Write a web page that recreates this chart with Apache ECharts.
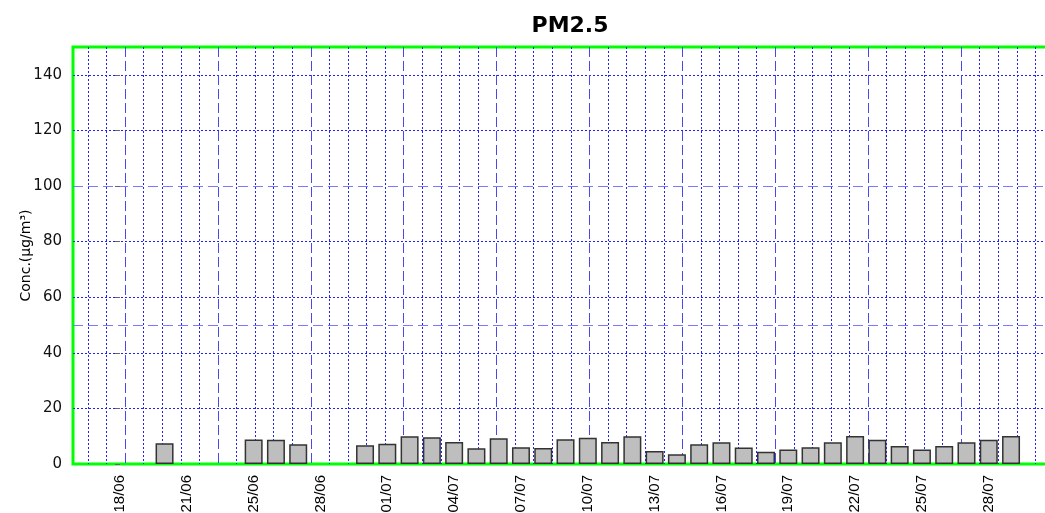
<!DOCTYPE html>
<html>
  <head>
    <meta charset="utf-8" />
    <script src="https://cdn.jsdelivr.net/npm/echarts@6.0.0/dist/echarts.min.js"></script>
  </head>
  <body style="margin:0">
    <div id="main" style="width: 1045px;height:513px;"></div>
    <script type="text/javascript">
      // days counted from 18/06
      var tickDays = [0, 3, 6, 9, 12, 15, 18, 21, 24, 27, 30, 33, 36, 39];
      var tickLabels = ['18/06', '21/06', '25/06', '28/06', '01/07', '04/07', '07/07',
        '10/07', '13/07', '16/07', '19/07', '22/07', '25/07', '28/07'];
      var barDays = [2, 6, 7, 8,
        11, 12, 13, 14, 15, 16, 17, 18, 19, 20, 21, 22, 23, 24, 25,
        26, 27, 28, 29, 30, 31, 32, 33, 34, 35, 36, 37, 38, 39, 40];
      var pm25 = [7.5, 8.8, 8.7, 7.1,
        6.7, 7.3, 10.0, 9.6, 7.9, 5.7, 9.3, 6.0, 5.8, 8.9, 9.4, 7.9, 10.0, 4.7, 3.5,
        7.1, 7.8, 5.9, 4.4, 5.2, 6.0, 7.8, 10.1, 8.7, 6.5, 5.2, 6.5, 7.8, 8.7, 10.1];
      var yTicks = [0, 20, 40, 60, 80, 100, 120, 140];
      var yDotted = [20, 40, 60, 80, 120, 140];
      var yDashed = [50, 100];
      // vertical grid lines (own units, one step per minor line)
      var vMinor = [];
      var vMajor = [];
      for (var g = -2; g <= 50; g++) {
        if (g % 5 === 0) vMajor.push(g); else vMinor.push(g);
      }

      var barData = barDays.map(function (d, i) { return [d, pm25[i]]; });

      var hiddenX = function (vals, type, color) {
        return {
          type: 'value', min: -2.8, max: 50.22, gridIndex: 0,
          axisLine: { show: false },
          axisLabel: { show: false, customValues: vals },
          axisTick: { show: false, customValues: vals },
          splitLine: { show: true, lineStyle: { color: color, width: 1, type: type } }
        };
      };
      var hiddenY = function (vals, type, color) {
        return {
          type: 'value', min: 0, max: 150,
          axisLine: { show: false },
          axisLabel: { show: false, customValues: vals },
          axisTick: { show: false, customValues: vals },
          splitLine: { show: true, lineStyle: { color: color, width: 1, type: type } }
        };
      };

      var myChart = echarts.init(document.getElementById('main'));
      var option = {
        animation: false,
        backgroundColor: '#fff',
        title: {
          text: 'PM2.5',
          left: 565,
          top: 10,
          textAlign: 'center',
          textStyle: { fontFamily: 'DejaVu Sans', fontWeight: 'bold', fontSize: 22, color: '#000' }
        },
        grid: {
          left: 73, top: 47, width: 985, height: 417,
          outerBoundsMode: 'none',
          containLabel: false,
          show: true, borderColor: '#00ff00', borderWidth: 3
        },
        xAxis: [
          {
            type: 'value', min: -2.11, max: 42.108,
            axisLine: { show: false },
            axisTick: { show: false, customValues: tickDays },
            splitLine: { show: false },
            axisLabel: {
              customValues: tickDays,
              rotate: 90,
              margin: 11,
              fontFamily: 'Liberation Sans',
              fontSize: 15,
              color: '#000',
              formatter: function (v) { return tickLabels[tickDays.indexOf(v)]; }
            }
          },
          hiddenX(vMinor, [2, 2], '#2020ff'),
          hiddenX(vMajor, [10, 4], '#4848f0')
        ],
        yAxis: [
          {
            type: 'value', min: 0, max: 150,
            name: 'Conc.(μg/m³)',
            nameLocation: 'middle',
            nameGap: 40,
            nameMoveOverlap: false,
            nameTextStyle: { fontFamily: 'DejaVu Sans', fontSize: 14, color: '#000' },
            axisLine: { show: false },
            axisTick: { show: true, length: 5, customValues: yTicks, lineStyle: { color: '#666' } },
            axisLabel: { customValues: yTicks, margin: 11, fontFamily: 'DejaVu Sans', fontSize: 15, color: '#111' },
            splitLine: { show: false }
          },
          hiddenY(yDotted, [2, 2], '#2020ff'),
          hiddenY(yDashed, [10, 5], '#7a7aff')
        ],
        series: [
          {
            type: 'bar',
            xAxisIndex: 0,
            yAxisIndex: 0,
            barWidth: 18,
            data: barData,
            itemStyle: { color: '#bebebe', borderColor: '#333', borderWidth: 1.5 }
          }
        ]
      };
      myChart.setOption(option);
    </script>
  </body>
</html>
